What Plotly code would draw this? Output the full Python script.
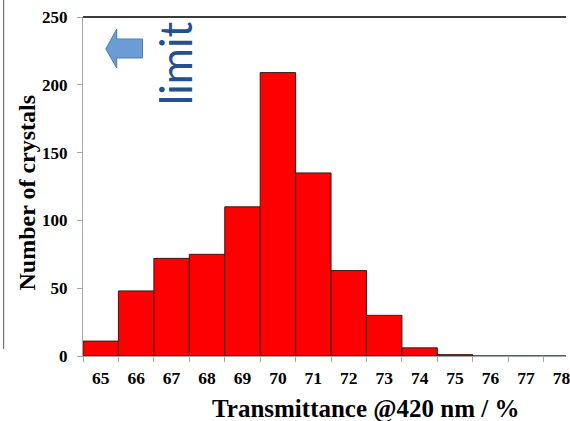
import plotly.graph_objects as go

# ---- data ----
bins = ["65", "66", "67", "68", "69", "70", "71", "72", "73", "74", "75", "76", "77", "78"]
counts = [11, 48, 72, 75, 110, 209, 135, 63, 30, 6, 1, 0, 0, 0]
y_ticks = [0, 50, 100, 150, 200, 250]
x_title = "Transmittance @420 nm / %"
y_title = "Number of crystals"
note = "limit"

W, H = 570, 421
ML, MR, MT, MB = 83, 0, 17, 65
PW, PH = W - ML - MR, H - MT - MB

def px(x):
    return (x - ML) / PW

def py(y):
    return (H - MB - y) / PH

fig = go.Figure()
fig.add_trace(go.Bar(
    x=bins, y=counts, width=1.0,
    marker=dict(color="#FF0000", line=dict(color="#3a1a1a", width=1)),
))

serif = "Liberation Serif"
fig.update_layout(
    width=W, height=H,
    margin=dict(l=ML, r=MR, t=MT, b=MB),
    paper_bgcolor="white", plot_bgcolor="white",
    showlegend=False,
    font=dict(family=serif, color="black"),
    xaxis=dict(
        type="category", range=[-0.5, -0.5 + PW / 35.73],
        tickson="boundaries", ticks="outside", ticklen=5, tickcolor="#a6a6a6",
        showline=True, linecolor="#a6a6a6", linewidth=1,
        showgrid=False, zeroline=False,
        tickfont=dict(family=serif, size=17.5, color="black", weight="bold"),
        ticklabelstandoff=6,
    ),
    yaxis=dict(
        range=[0, 250], tickvals=y_ticks,
        ticks="outside", ticklen=5, tickcolor="#a6a6a6",
        showline=True, linecolor="#a6a6a6", linewidth=1,
        showgrid=False, zeroline=False,
        tickfont=dict(family=serif, size=17, color="black", weight="bold"),
        ticklabelstandoff=6,
    ),
)

# axis titles (placed as in the original slide)
fig.add_annotation(text=x_title, xref="paper", yref="paper", x=px(368.5), y=py(409),
                   showarrow=False, xanchor="center", yanchor="middle",
                   font=dict(family=serif, size=25, color="black", weight="bold"))
fig.add_annotation(text=y_title, xref="paper", yref="paper", x=px(27), y=py(192),
                   showarrow=False, xanchor="center", yanchor="middle", textangle=-90,
                   font=dict(family=serif, size=24, color="black", weight="bold"))

# top border line of the slide frame
fig.add_shape(type="line", xref="paper", yref="paper", x0=px(83), x1=px(570), y0=py(17), y1=py(17),
              line=dict(color="#3c3c3c", width=2))
# left vertical frame line
fig.add_shape(type="line", xref="paper", yref="paper", x0=px(3), x1=px(3), y0=py(0), y1=py(349),
              line=dict(color="#5a5a5a", width=1))

# left-pointing block arrow
pts = [(106, 49), (117, 29), (117, 39), (143, 39), (143, 58), (117, 58), (117, 68)]
path = "M " + " L ".join(f"{px(a):.5f},{py(b):.5f}" for a, b in pts) + " Z"
fig.add_shape(type="path", xref="paper", yref="paper", path=path,
              fillcolor="#6C9CD4", line=dict(color="#4A7DBA", width=1))

fig.add_annotation(text=note, xref="paper", yref="paper", x=px(176), y=py(63),
                   showarrow=False, textangle=-90,
                   font=dict(family="Lato", size=44, color="#24508E"),
                   xanchor="center", yanchor="middle")

fig.write_html("out.html")
